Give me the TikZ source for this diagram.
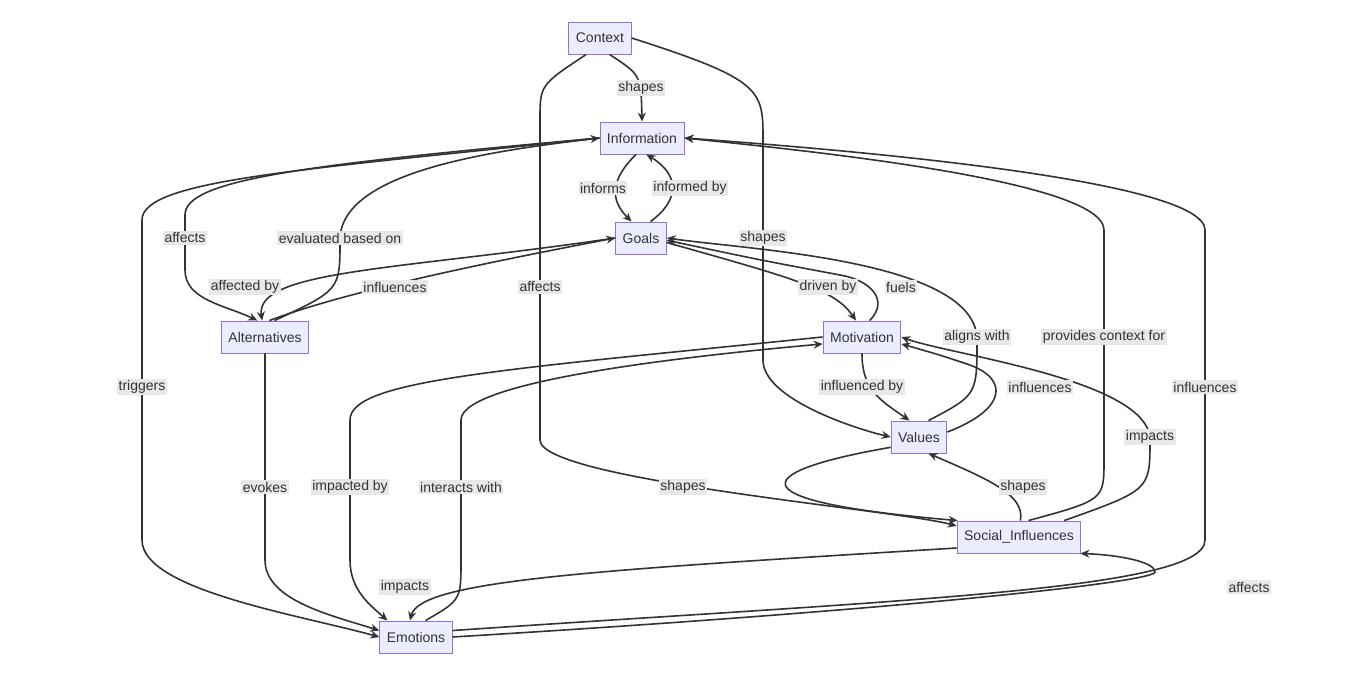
\documentclass[tikz,border=0pt]{standalone}
\usepackage{fontspec}
\setmainfont{Liberation Sans}
\usetikzlibrary{arrows.meta}
\definecolor{nfill}{HTML}{ECECFF}
\definecolor{nline}{HTML}{9370DB}
\definecolor{lbg}{HTML}{E8E8E8}
\definecolor{ed}{HTML}{333333}
\begin{document}
\begin{tikzpicture}[x=1pt,y=-1pt,
 box/.style={draw=nline,fill=nfill,line width=0.9pt,minimum height=32pt,inner xsep=7pt,font=\fontsize{14}{16}\selectfont,text=ed},
 e/.style={draw=ed,line width=1.6pt,-{Stealth[length=9pt,width=8pt]}},
 lab/.style={fill=lbg,inner sep=1.5pt,font=\fontsize{14}{16}\selectfont,text=ed}]
\useasboundingbox (0,0) rectangle (1358,679);
\node[box] (C) at (600,38) {Context};
\node[box] (I) at (642,138) {Information};
\node[box] (G) at (641,238) {Goals};
\node[box] (A) at (265,337) {Alternatives};
\node[box] (M) at (862,337) {Motivation};
\node[box] (V) at (919,437) {Values};
\node[box] (S) at (1019,537) {Social\_Influences};
\node[box] (E) at (416,637) {Emotions};
% edges
\draw[e] (C.-60) .. controls (641,75) .. (I.north);
\draw[e] (C.east) .. controls (763,80) and (763,90) .. (763,140) -- (763,360) .. controls (763,400) and (860,430) .. (V.west);
\draw[e] (C.-130) .. controls (540,85) .. (540,120) -- (540,440) .. controls (540,480) and (900,510) .. (S.170);
\draw[e] (I.-110) .. controls (610,180) and (610,200) .. (G.120);
\draw[e] (G.60) .. controls (680,200) and (680,175) .. (I.-75);
\draw[e] (I.west) .. controls (300,165) and (185,180) .. (185,215) -- (185,270) .. controls (185,300) and (225,305) .. (A.115);
\draw[e] (A.60) .. controls (340,290) .. (340,240) .. controls (340,170) and (500,150) .. (I.west);
\draw[e] (I.west) .. controls (300,170) and (142,180) .. (142,220) -- (142,540) .. controls (142,590) and (300,615) .. (E.west);
\draw[e] (G.west) .. controls (400,270) and (255,270) .. (A.100);
\draw[e] (A.75) .. controls (350,290) and (500,260) .. (G.west);
\draw[e] (G.-10) .. controls (800,280) and (835,290) .. (M.110);
\draw[e] (M.65) .. controls (890,300) and (870,280) .. (840,275) .. controls (760,260) .. (G.-5);
\draw[e] (V.60) .. controls (977,395) .. (977,340) .. controls (977,260) and (750,250) .. (G.east);
\draw[e] (M.south) .. controls (862,390) and (880,400) .. (V.120);
\draw[e] (V.10) .. controls (1005,410) and (1010,380) .. (970,365) .. controls (940,355) .. (M.-10);
\draw[e] (S.85) .. controls (1025,495) and (990,480) .. (V.-60);
\draw[e] (V.-160) .. controls (760,470) and (720,500) .. (S.165);
\draw[e] (S.60) .. controls (1104,500) .. (1104,460) -- (1104,230) .. controls (1104,180) and (800,150) .. (I.east);
\draw[e] (E.10) .. controls (900,600) and (1205,590) .. (1205,540) -- (1205,230) .. controls (1205,180) and (850,150) .. (I.east);
\draw[e] (S.20) .. controls (1150,490) .. (1150,440) .. controls (1150,380) and (950,355) .. (M.east);
\draw[e] (A.south) -- (265,560) .. controls (265,600) and (330,615) .. (E.170);
\draw[e] (M.west) .. controls (500,370) and (350,380) .. (350,420) -- (350,560) .. controls (350,590) and (370,605) .. (E.150);
\draw[e] (E.60) .. controls (461,600) .. (461,560) -- (461,420) .. controls (461,380) and (700,355) .. (M.-170);
\draw[e] (S.-170) .. controls (600,570) and (420,580) .. (E.110);
\draw[e] (E.east) .. controls (900,610) and (1155,582) .. (1155,572) .. controls (1155,562) and (1120,555) .. (S.-15);
% labels
\node[lab] at (641,88) {shapes};
\node[lab] at (763,238) {shapes};
\node[lab] at (540,287) {affects};
\node[lab] at (683,487) {shapes};
\node[lab] at (603,188) {informs};
\node[lab] at (690,188) {informed by};
\node[lab] at (185,238) {affects};
\node[lab] at (340,238) {evaluated based on};
\node[lab] at (142,387) {triggers};
\node[lab] at (245,287) {affected by};
\node[lab] at (395,287) {influences};
\node[lab] at (828,287) {driven by};
\node[lab] at (901,287) {fuels};
\node[lab] at (977,337) {aligns with};
\node[lab] at (862,387) {influenced by};
\node[lab] at (1040,387) {influences};
\node[lab] at (1023,487) {shapes};
\node[lab] at (1104,337) {provides context for};
\node[lab] at (1205,387) {influences};
\node[lab] at (1150,437) {impacts};
\node[lab] at (265,487) {evokes};
\node[lab] at (350,487) {impacted by};
\node[lab] at (461,487) {interacts with};
\node[lab] at (405,587) {impacts};
\node[lab] at (1249,587) {affects};
\end{tikzpicture}
\end{document}
